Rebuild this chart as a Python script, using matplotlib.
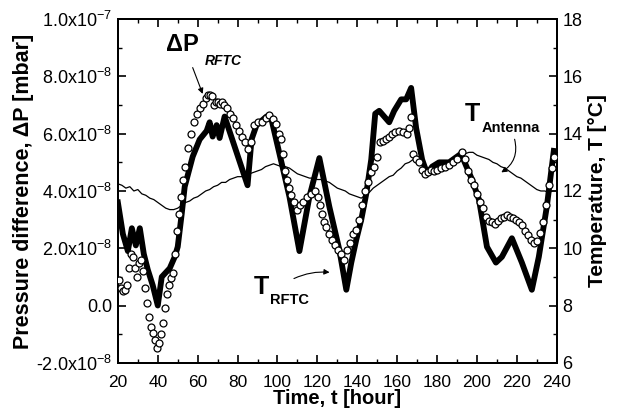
import matplotlib
matplotlib.use("Agg")
import matplotlib.pyplot as plt
from matplotlib.ticker import MultipleLocator, FuncFormatter
import numpy as np

plt.rcParams["font.family"] = ["Liberation Sans", "DejaVu Sans"]
plt.rcParams["mathtext.default"] = "regular"

# T_RFTC, thick line (right axis, degC)
t_rftc_hour = [20, 22.5, 25, 27, 29, 31, 33, 35, 37.5, 40, 42, 46, 48.5, 50, 52, 53.5,
               57.5, 61, 64.5, 66, 67.5, 69.5, 71, 73.5, 85, 87, 89.5, 94.5, 97, 101,
               106, 111, 116, 121, 126, 131, 134.5, 137, 139.5, 142, 144.5, 147, 149,
               151, 156, 158.5, 162, 164.5, 167, 169.5, 172.5, 175, 177.5, 181, 186,
               192, 197.5, 201, 205, 209.5, 212.5, 217.5, 222.5, 227.5, 231, 235, 238.5]
t_rftc = [11.6, 10.5, 9.9, 10.7, 10.1, 10.7, 9.8, 9.25, 8.7, 8.0, 9.0, 9.3, 9.7, 10.05,
          11.2, 12.15, 13.2, 13.8, 14.1, 14.4, 13.9, 14.3, 13.85, 14.6, 12.2, 13.8, 14.3,
          14.6, 14.5, 13.3, 11.8, 9.9, 11.8, 13.15, 11.45, 9.95, 8.55, 9.5, 10.3, 11.0,
          11.9, 13.1, 14.7, 14.8, 14.4, 14.8, 15.2, 15.2, 15.6, 14.2, 13.1, 12.6, 12.85,
          13.0, 13.0, 13.3, 12.4, 11.7, 10.05, 9.5, 9.7, 10.35, 9.5, 8.55, 9.7, 11.45, 13.4]

# T_Antenna, thin line (right axis, degC)
t_ant_hour = [20, 22, 24, 26, 28, 30, 32, 34, 36, 38, 40, 42, 44, 46, 48, 50, 52, 54, 56,
              58, 60, 62, 64, 66, 68, 70, 72, 74, 76, 78, 80, 82, 84, 86, 88, 90, 92, 94,
              96, 98, 100, 102, 104, 106, 108, 110, 112, 114, 116, 118, 120, 122, 124,
              126, 128, 130, 132, 134, 136, 138, 140, 142, 144, 146, 148, 150, 152, 154,
              156, 158, 160, 162, 164, 166, 168, 170, 172, 174, 176, 178, 180, 182, 184,
              186, 188, 190, 192, 194, 196, 198, 200, 202, 204, 206, 208, 210, 212, 214,
              216, 218, 220, 222, 224, 226, 228, 230, 232, 234, 236, 238, 240]
t_ant = [12.25, 12.2, 12.1, 12.15, 12.0, 12.05, 11.9, 11.85, 11.75, 11.7, 11.6, 11.5,
         11.4, 11.35, 11.35, 11.4, 11.5, 11.6, 11.65, 11.75, 11.8, 11.9, 12.0, 12.05,
         12.15, 12.2, 12.3, 12.3, 12.4, 12.45, 12.5, 12.5, 12.55, 12.6, 12.65, 12.7,
         12.75, 12.85, 12.9, 12.95, 12.9, 12.85, 12.85, 12.8, 12.7, 12.6, 12.55, 12.5,
         12.45, 12.45, 12.4, 12.4, 12.35, 12.3, 12.2, 12.1, 12.05, 12.0, 11.9, 11.85,
         11.8, 11.75, 11.85, 11.95, 12.1, 12.2, 12.3, 12.4, 12.5, 12.55, 12.7, 12.8,
         12.95, 13.0, 13.1, 13.05, 12.95, 12.85, 12.8, 12.85, 12.85, 12.9, 12.95, 13.0,
         13.1, 13.2, 13.3, 13.3, 13.35, 13.35, 13.25, 13.2, 13.15, 13.1, 13.0, 12.95,
         12.85, 12.8, 12.7, 12.6, 12.5, 12.45, 12.35, 12.25, 12.15, 12.05, 12.0, 12.0,
         11.95, 12.0, 12.0]

# Delta P_RFTC, open circles (left axis, units of 1e-8 mbar)
dp_hour = [20.5, 21.5, 22.5, 23.5, 24.5, 25.5, 26.5, 27.5, 28.5, 29.5, 30.5, 31.5, 32.5,
           33.5, 34.5, 35.5, 36.5, 37.5, 38.5, 39.5, 40.5, 41.5, 42.5, 43.5, 44.5, 45.5,
           46.5, 47.5, 48.5, 49.5, 50.5, 51.5, 52.5, 53.5, 55, 56.5, 58, 59.5, 61, 62.5,
           64, 65, 66, 67, 68, 69, 70, 71, 72, 73, 74.5, 76, 77.5, 79, 80.5, 82, 83.5,
           85, 86.5, 88, 90, 92, 94, 96, 98, 99.5, 101, 102, 103, 104, 105, 106, 107,
           108.5, 110, 111.5, 113, 115, 117, 119, 120.5, 121.5, 122.5, 123.5, 124.5, 126,
           127.5, 129, 130.5, 132, 133.5, 135, 136.5, 138, 139.5, 141, 142.5, 144, 145.5,
           147, 148.5, 150, 151.5, 153, 154.5, 156, 157.5, 159, 161, 163, 165, 166, 167,
           168, 169.5, 171, 172.5, 174, 175.5, 177, 178.5, 180, 182, 184, 186, 188, 190,
           192.5, 194, 195.5, 197, 198.5, 200, 201.5, 203, 204.5, 206, 207.5, 209, 210.5,
           212, 213.5, 215, 216.5, 218, 219.5, 221, 222.5, 224, 225.5, 227, 228.5, 230,
           231.5, 233, 234.5, 236, 237.5, 238.5]
dp = [0.9, 0.6, 0.5, 0.55, 0.7, 1.3, 1.8, 1.7, 1.3, 1.0, 1.5, 1.6, 1.2, 0.6, 0.1, -0.4,
      -0.75, -0.95, -1.2, -1.5, -1.3, -1.0, -0.6, -0.1, 0.4, 0.7, 0.95, 1.15, 1.8, 2.6,
      3.2, 3.8, 4.4, 4.85, 5.5, 6.0, 6.4, 6.7, 6.9, 7.05, 7.25, 7.35, 7.35, 7.3, 7.0,
      7.1, 7.1, 7.05, 7.1, 7.0, 6.9, 6.7, 6.55, 6.3, 6.1, 5.9, 5.7, 5.45, 5.7, 6.3, 6.4,
      6.4, 6.55, 6.65, 6.5, 6.35, 6.0, 5.8, 5.3, 4.7, 4.4, 4.1, 3.85, 3.6, 3.35, 3.5,
      3.6, 3.8, 3.9, 4.0, 3.8, 3.5, 3.2, 2.9, 2.75, 2.5, 2.3, 2.1, 1.95, 1.8, 1.6, 1.95,
      2.2, 2.5, 2.65, 3.0, 3.5, 4.0, 4.3, 4.65, 4.85, 5.2, 5.7, 5.75, 5.8, 5.9, 6.0,
      6.05, 6.1, 6.05, 6.0, 6.2, 6.6, 5.3, 5.1, 5.0, 4.75, 4.6, 4.65, 4.75, 4.7, 4.75,
      4.8, 4.85, 4.9, 5.0, 5.1, 5.35, 5.1, 4.7, 4.4, 4.2, 3.9, 3.6, 3.4, 3.1, 2.95, 2.9,
      2.85, 2.95, 3.05, 3.1, 3.15, 3.1, 3.05, 3.0, 2.9, 2.8, 2.6, 2.45, 2.3, 2.2, 2.25,
      2.55, 2.9, 3.5, 4.2, 4.8, 5.2]


def p_fmt(v, pos):
    m = v * 1e8
    if abs(m) < 1e-6:
        return "0.0"
    if abs(m) >= 9.99:
        return "%.1fx10$^{-7}$" % (m / 10)
    return "%.1fx10$^{-8}$" % m


fig = plt.figure(figsize=(6.27, 4.17), dpi=100)
ax = fig.add_axes([0.188, 0.13, 0.700, 0.824])
ax2 = ax.twinx()

ax2.plot(t_ant_hour, t_ant, color="black", lw=0.9, zorder=2)
ax2.plot(t_rftc_hour, t_rftc, color="black", lw=4.2, solid_joinstyle="round", zorder=3)
ax.plot(dp_hour, np.array(dp) * 1e-8, linestyle="none", marker="o", ms=5.0,
        mfc="white", mec="black", mew=0.9, zorder=4)
ax.set_zorder(ax2.get_zorder() + 1)
ax.patch.set_visible(False)

ax.set_xlim(20, 240)
ax.set_ylim(-2e-8, 1e-7)
ax2.set_ylim(6, 18)

ax.xaxis.set_major_locator(MultipleLocator(20))
ax.xaxis.set_minor_locator(MultipleLocator(10))
ax.yaxis.set_major_locator(MultipleLocator(2e-8))
ax.yaxis.set_minor_locator(MultipleLocator(1e-8))
ax.yaxis.set_major_formatter(FuncFormatter(p_fmt))
ax2.yaxis.set_major_locator(MultipleLocator(2))
ax2.yaxis.set_minor_locator(MultipleLocator(1))

ax.tick_params(axis="x", which="both", direction="in", top=True, labelsize=12.5, pad=9)
ax.tick_params(axis="y", which="both", direction="in", labelsize=13, pad=4)
ax2.tick_params(axis="y", which="both", direction="in", labelsize=13, pad=4)
for a in (ax, ax2):
    a.tick_params(which="major", length=6, width=1.2)
    a.tick_params(which="minor", length=3, width=1.0)
    for s in a.spines.values():
        s.set_linewidth(1.4)

ax.set_xlabel("Time, t [hour]", fontsize=14.5, fontweight="bold", labelpad=-1)
ax.set_ylabel("Pressure difference, ΔP [mbar]", fontsize=15.5, fontweight="bold", labelpad=2)
ax2.set_ylabel("Temperature, T [°C]", fontsize=15, fontweight="bold", labelpad=4)

# labels with arrows
ax2.text(44, 17.1, "ΔP", fontsize=17, fontweight="bold", va="center", ha="left")
ax2.text(63.5, 16.55, "RFTC", fontsize=10, fontweight="bold", style="italic", va="center", ha="left")
ax2.annotate("", xy=(63, 15.3), xytext=(57, 16.4),
             arrowprops=dict(arrowstyle="-|>", color="black", lw=0.8, mutation_scale=8))

ax2.text(194, 14.7, "T", fontsize=18, fontweight="bold", va="center", ha="left")
ax2.text(202.5, 14.2, "Antenna", fontsize=10.5, fontweight="bold", va="center", ha="left")
ax2.annotate("", xy=(211, 12.6), xytext=(218.5, 13.9),
             arrowprops=dict(arrowstyle="-|>", color="black", lw=0.8, mutation_scale=8,
                             connectionstyle="arc3,rad=-0.4"))

ax2.text(88, 8.65, "T", fontsize=18, fontweight="bold", va="center", ha="left")
ax2.text(96.5, 8.2, "RFTC", fontsize=10.5, fontweight="bold", va="center", ha="left")
ax2.annotate("", xy=(127.5, 9.15), xytext=(107, 8.9),
             arrowprops=dict(arrowstyle="-|>", color="black", lw=0.8, mutation_scale=8,
                             connectionstyle="arc3,rad=-0.15"))

plt.savefig("out.png", dpi=100)
plt.close(fig)
